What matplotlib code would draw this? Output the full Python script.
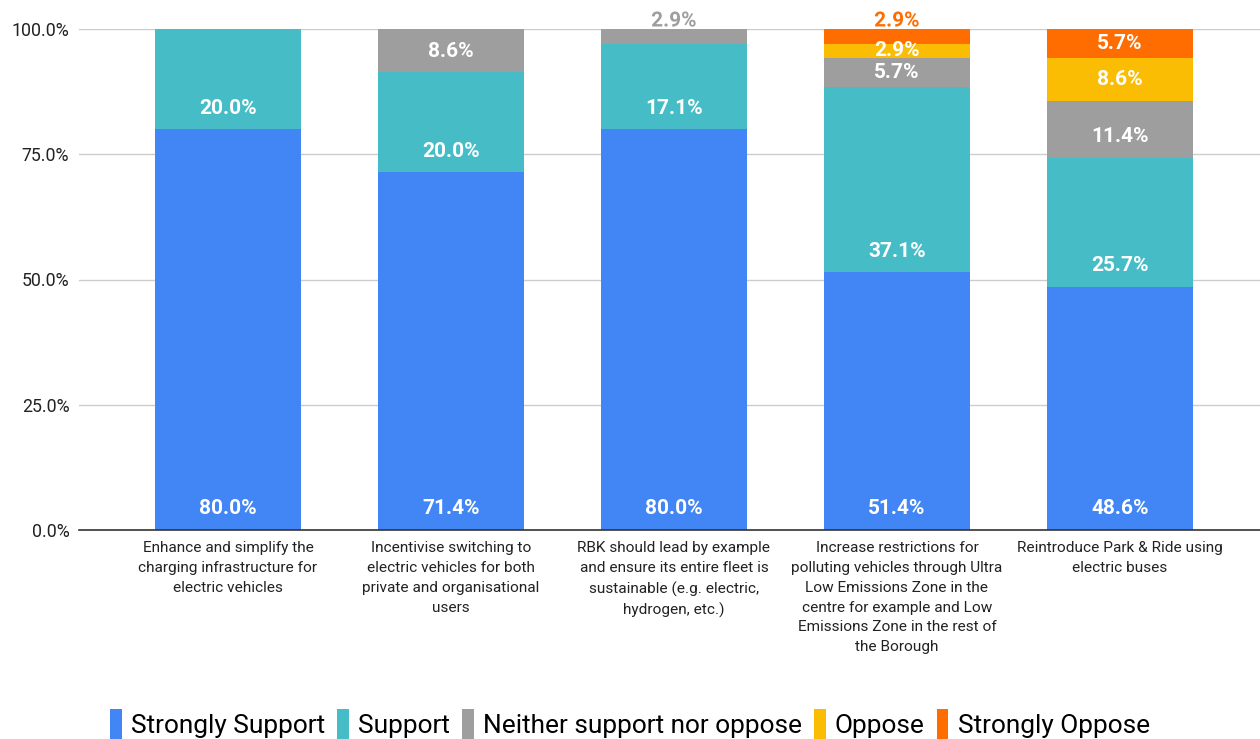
import matplotlib
matplotlib.use("Agg")
import matplotlib.pyplot as plt
import matplotlib.patheffects as pe
from matplotlib.patches import Patch
import numpy as np

plt.rcParams['font.family'] = ['Roboto', 'DejaVu Sans']

categories = [
    "Enhance and simplify the\ncharging infrastructure for\nelectric vehicles",
    "Incentivise switching to\nelectric vehicles for both\nprivate and organisational\nusers",
    "RBK should lead by example\nand ensure its entire fleet is\nsustainable (e.g. electric,\nhydrogen, etc.)",
    "Increase restrictions for\npolluting vehicles through Ultra\nLow Emissions Zone in the\ncentre for example and Low\nEmissions Zone in the rest of\nthe Borough",
    "Reintroduce Park & Ride using\nelectric buses",
]
series_names = ["Strongly Support", "Support", "Neither support nor oppose", "Oppose", "Strongly Oppose"]
strongly_support = [80.0, 71.4, 80.0, 51.4, 48.6]
support = [20.0, 20.0, 17.1, 37.1, 25.7]
neither = [0.0, 8.6, 2.9, 5.7, 11.4]
oppose = [0.0, 0.0, 0.0, 2.9, 8.6]
strongly_oppose = [0.0, 0.0, 0.0, 2.9, 5.7]
y_ticks = [0, 25, 50, 75, 100]

colors = ["#4285F4", "#46BDC6", "#9E9E9E", "#FBBC04", "#FF6D01"]
series = [strongly_support, support, neither, oppose, strongly_oppose]

fig = plt.figure(figsize=(12.6, 7.39), dpi=100)
ax = fig.add_axes([79/1260, 1 - 530/739, 1 - 79/1260, (530 - 29)/739])

x = np.arange(len(categories))
width = 0.655
bottom = np.zeros(len(categories))
n_series = len(series)
for si, (vals, col) in enumerate(zip(series, colors)):
    vals = np.array(vals)
    ax.bar(x, vals, width, bottom=bottom, color=col, label=series_names[si], zorder=2)
    for i, v in enumerate(vals):
        if v <= 0:
            continue
        is_top = all(series[k][i] == 0 for k in range(si + 1, n_series))
        txt = f"{v:.1f}%"
        if is_top and v < 4:
            ax.text(x[i], bottom[i] + v + 1.6, txt, ha='center', va='center',
                    color=col, fontsize=15, fontweight='bold', clip_on=False, zorder=5,
                    path_effects=[pe.withStroke(linewidth=3, foreground='white')])
        else:
            ypos = bottom[i] + min(4.2, v / 2)
            ax.text(x[i], ypos, txt, ha='center', va='center', color='white',
                    fontsize=15, fontweight='bold', zorder=5)
    bottom += vals

ax.set_xlim(-0.668, -0.668 + 1181/223)
ax.set_ylim(0, 100)
ax.set_yticks(y_ticks)
ax.set_yticklabels([f"{t:.1f}%" for t in y_ticks], fontsize=12.8, color='#222222')
ax.set_xticks(x)
ax.set_xticklabels(categories, fontsize=11.1, color='#222222', linespacing=1.53, va='top')
ax.tick_params(axis='x', length=0, pad=8)
ax.tick_params(axis='y', length=0, pad=7)
ax.grid(axis='y', color='#CCCCCC', linewidth=1, zorder=0)
for s in ['top', 'right', 'left']:
    ax.spines[s].set_visible(False)
ax.spines['bottom'].set_color('#333333')
ax.spines['bottom'].set_linewidth(1.2)
ax.spines['bottom'].set_zorder(3)

handles = [Patch(facecolor=c, edgecolor='none') for c in colors]
fig.legend(handles, series_names, loc='center', bbox_to_anchor=(0.5, 1 - 724/739),
           ncol=5, frameon=False, fontsize=18.9, handlelength=0.45, handleheight=1.4,
           handletextpad=0.35, columnspacing=0.45)

fig.savefig("out.png", dpi=100)
